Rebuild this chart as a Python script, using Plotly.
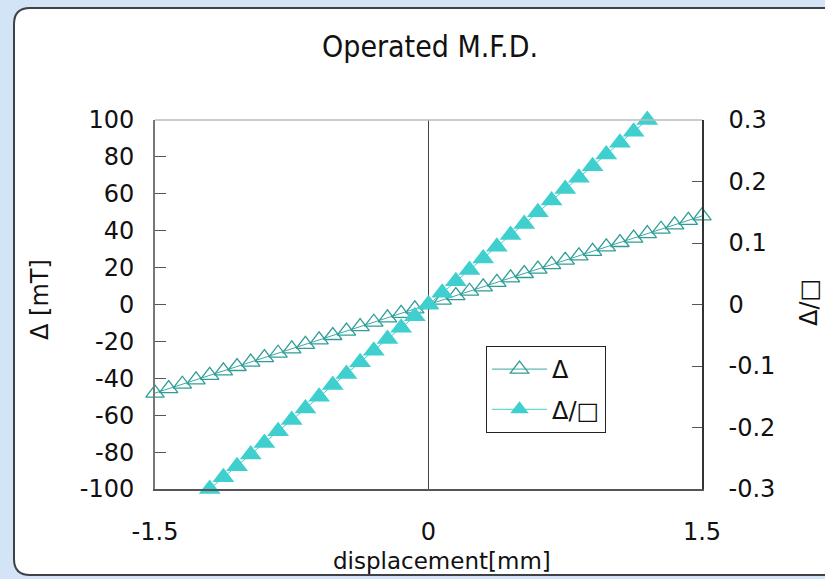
import plotly.graph_objects as go

# ---- data ----
disp_open = [-1.5, -1.425, -1.35, -1.275, -1.2, -1.125, -1.05, -0.975, -0.9, -0.825,
             -0.75, -0.675, -0.6, -0.525, -0.45, -0.375, -0.3, -0.225, -0.15, -0.075,
             0.0, 0.075, 0.15, 0.225, 0.3, 0.375, 0.45, 0.525, 0.6, 0.675,
             0.75, 0.825, 0.9, 0.975, 1.05, 1.125, 1.2, 1.275, 1.35, 1.425, 1.5]
delta_mT = [-48.0, -45.6, -43.2, -40.8, -38.4, -36.0, -33.6, -31.2, -28.8, -26.4,
            -24.0, -21.6, -19.2, -16.8, -14.4, -12.0, -9.6, -7.2, -4.8, -2.4,
            0.0, 2.4, 4.8, 7.2, 9.6, 12.0, 14.4, 16.8, 19.2, 21.6,
            24.0, 26.4, 28.8, 31.2, 33.6, 36.0, 38.4, 40.8, 43.2, 45.6, 48.0]

disp_fill = [-1.2, -1.125, -1.05, -0.975, -0.9, -0.825, -0.75, -0.675, -0.6, -0.525,
             -0.45, -0.375, -0.3, -0.225, -0.15, -0.075, 0.0, 0.075, 0.15, 0.225,
             0.3, 0.375, 0.45, 0.525, 0.6, 0.675, 0.75, 0.825, 0.9, 0.975,
             1.05, 1.125, 1.2]
delta_ratio = [-0.300, -0.281, -0.263, -0.244, -0.225, -0.206, -0.188, -0.169, -0.150, -0.131,
               -0.113, -0.094, -0.075, -0.056, -0.038, -0.019, 0.000, 0.019, 0.038, 0.056,
               0.075, 0.094, 0.113, 0.131, 0.150, 0.169, 0.188, 0.206, 0.225, 0.244,
               0.263, 0.281, 0.300]

x_tickvals = [-1.5, 0, 1.5]
x_ticktext = ["-1.5", "0", "1.5"]
y_tickvals = [-100, -80, -60, -40, -20, 0, 20, 40, 60, 80, 100]
y_ticktext = ["-100", "-80", "-60", "-40", "-20", "0", "20", "40", "60", "80", "100"]
y2_tickvals = [-0.3, -0.2, -0.1, 0, 0.1, 0.2, 0.3]
y2_ticktext = ["-0.3", "-0.2", "-0.1", "0", "0.1", "0.2", "0.3"]

series_names = ["Δ", "Δ/□"]
title_text = "Operated M.F.D."
x_title = "displacement[mm]"
y_title = "Δ [mT]"
y2_title = "Δ/□"

# ---- layout geometry (pixels) ----
W, H = 825, 579
L, R, T, B = 155, 702, 120, 489


def px(xpix):
    return (xpix - L) / (R - L)


def py(ypix):
    return (B - ypix) / (B - T)


FONT = "DejaVu Sans"
TXT = "#111111"

fig = go.Figure()
fig.add_trace(go.Scatter(
    x=disp_open, y=delta_mT, name=series_names[0], mode="lines+markers",
    legendgroup="a",
    line=dict(color="#3aa9a2", width=1),
    marker=dict(symbol="triangle-up-open", size=16, color="#2f9d96",
                line=dict(width=1.3, color="#2f9d96")),
    cliponaxis=False, yaxis="y"))
fig.add_trace(go.Scatter(
    x=disp_fill, y=delta_ratio, name=series_names[1], mode="lines+markers",
    legendgroup="b",
    line=dict(color="#44cccc", width=1),
    marker=dict(symbol="triangle-up", size=19, color="#3fcfcf",
                line=dict(width=0)),
    cliponaxis=False, yaxis="y2"))

# rounded white panel
x0, x1, y0, y1, r = px(14), px(850), py(8), py(575), 16
rx = r / (R - L)
ry = r / (B - T)
panel = (f"M {x0+rx} {y0} L {x1-rx} {y0} Q {x1} {y0} {x1} {y0-ry} "
         f"L {x1} {y1+ry} Q {x1} {y1} {x1-rx} {y1} "
         f"L {x0+rx} {y1} Q {x0} {y1} {x0} {y1+ry} "
         f"L {x0} {y0-ry} Q {x0} {y0} {x0+rx} {y0} Z")

shapes = [
    dict(type="path", path=panel, xref="paper", yref="paper", layer="below",
         fillcolor="white", line=dict(color="#3c4248", width=2)),
    dict(type="line", xref="paper", yref="paper", x0=0, x1=1, y0=1, y1=1,
         line=dict(color="#bbbbbb", width=1.5), layer="above"),
]


def ann(text, x, y, size, family=FONT, angle=0):
    return dict(text=text, x=px(x), y=py(y), xref="paper", yref="paper",
                xanchor="center", yanchor="middle", textangle=angle,
                showarrow=False, font=dict(family=family, size=size, color=TXT))


annotations = [
    ann(title_text, 430, 47, 30, family="DejaVu Sans Condensed"),
    ann(y_title, 40, 300, 24, angle=-90),
    ann(y2_title, 809, 303, 24, angle=-90),
    ann(x_title, 442, 561, 23),
]

fig.update_layout(
    width=W, height=H,
    margin=dict(l=L, r=W - R, t=T, b=H - B, pad=0),
    paper_bgcolor="#d3e4f7", plot_bgcolor="white",
    showlegend=True,
    legend=dict(x=px(486), y=py(346), xanchor="left", yanchor="top",
                bgcolor="white", bordercolor="#222222", borderwidth=1,
                font=dict(family=FONT, size=24, color=TXT),
                tracegroupgap=6, itemwidth=55),
    xaxis=dict(range=[-1.5, 1.5], tickvals=x_tickvals, ticktext=x_ticktext,
               showgrid=False, zeroline=True, zerolinecolor="#444444", zerolinewidth=1,
               showline=True, linecolor="#555555", linewidth=1.5,
               ticks="", ticklabelstandoff=20,
               tickfont=dict(family=FONT, size=24, color=TXT)),
    yaxis=dict(range=[-100, 100], tickvals=y_tickvals, ticktext=y_ticktext,
               showgrid=False, zeroline=False,
               showline=True, linecolor="#777777", linewidth=2,
               ticks="inside", ticklen=11, tickcolor="#555555", tickwidth=1,
               ticklabelstandoff=14,
               tickfont=dict(family=FONT, size=24, color=TXT)),
    yaxis2=dict(range=[-0.3, 0.3], tickvals=y2_tickvals, ticktext=y2_ticktext,
                overlaying="y", side="right",
                showgrid=False, zeroline=False,
                showline=True, linecolor="#333333", linewidth=1.5,
                ticks="inside", ticklen=10, tickcolor="#555555", tickwidth=1,
                ticklabelstandoff=20,
                tickfont=dict(family=FONT, size=24, color=TXT)),
    shapes=shapes, annotations=annotations,
)

fig.write_html("out.html")
